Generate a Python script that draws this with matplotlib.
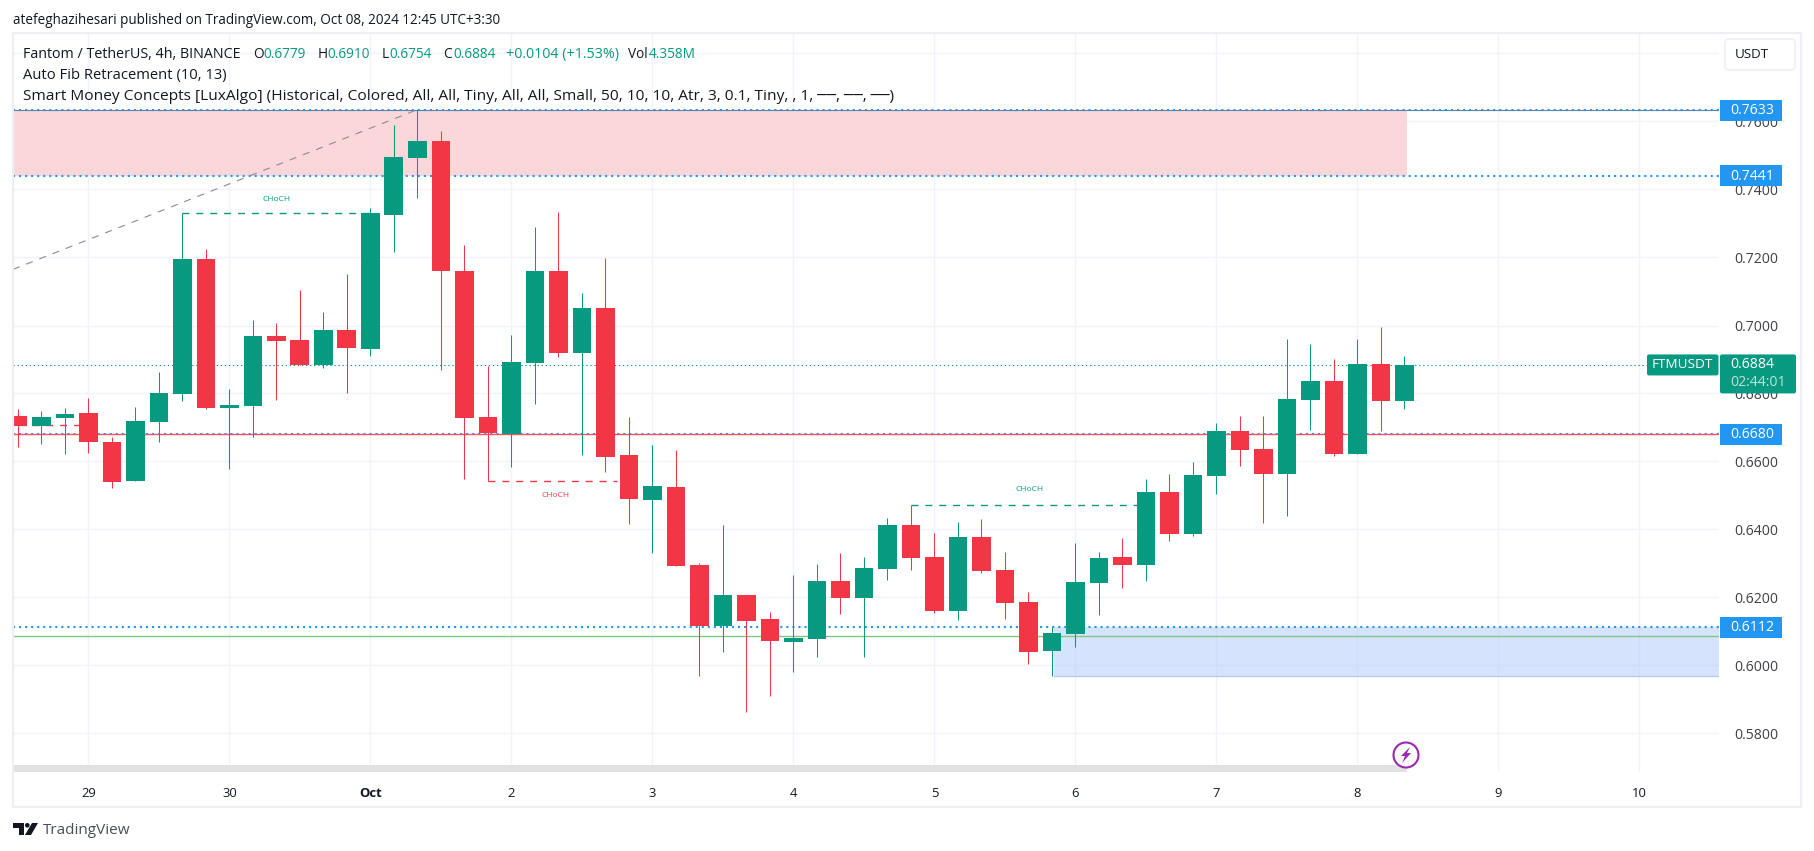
import matplotlib
matplotlib.use('Agg')
import matplotlib.pyplot as plt
from matplotlib.patches import Rectangle, FancyBboxPatch, Circle, Polygon

W, H = 1814, 851
font = 'Open Sans'

# свечи FTM/USDT 4h
opens = [.6734, .6705, .6728, .6743, .6657, .6543, .6716, .6799, .7196, .6758,
         .6763, .6969, .6958, .6884, .6987, .6931, .7325, .7493, .7543, .7160,
         .6731, .6681, .6890, .7160, .6919, .7052, .6619, .6487, .6525, .6296,
         .6116, .6207, .6137, .6069, .6078, .6249, .6199, .6284, .6413, .6319,
         .6160, .6378, .6281, .6187, .6043, .6093, .6243, .6319, .6295, .6510,
         .6387, .6557, .6690, .6637, .6563, .6781, .6837, .6622, .6887, .6779]
highs = [.6755, .6749, .6758, .6787, .6672, .6760, .6863, .7330, .7225, .6813,
         .7016, .7008, .7105, .7040, .7151, .7345, .7590, .7635, .7572, .7237,
         .6881, .6972, .7290, .7334, .7096, .7199, .6731, .6649, .6634, .6302,
         .6413, .6207, .6157, .6266, .6299, .6331, .6319, .6434, .6471, .6390,
         .6422, .6431, .6334, .6216, .6113, .6360, .6334, .6375, .6548, .6563,
         .6598, .6713, .6734, .6734, .6960, .6946, .6901, .6960, .6996, .6910]
lows = [.6643, .6652, .6622, .6625, .6522, .6543, .6657, .6778, .6755, .6578,
        .6672, .6781, .6884, .6875, .6802, .6910, .7217, .7375, .6869, .6549,
        .6542, .6584, .6769, .6907, .6619, .6569, .6416, .6331, .6293, .5969,
        .6040, .5863, .5910, .5981, .6025, .6152, .6025, .6252, .6281, .6154,
        .6134, .6272, .6137, .6005, .5969, .6054, .6148, .6228, .6248, .6366,
        .6381, .6504, .6587, .6419, .6440, .6693, .6616, .6622, .6690, .6754]
closes = [.6705, .6731, .6740, .6657, .6540, .6719, .6802, .7196, .6758, .6766,
          .6969, .6955, .6884, .6987, .6934, .7330, .7496, .7543, .7160, .6728,
          .6684, .6893, .7160, .6919, .7052, .6613, .6490, .6528, .6293, .6116,
          .6207, .6131, .6072, .6081, .6249, .6199, .6287, .6413, .6316, .6160,
          .6378, .6278, .6184, .6040, .6096, .6246, .6316, .6295, .6510, .6387,
          .6560, .6690, .6634, .6563, .6784, .6837, .6622, .6887, .6778, .6884]

day_ticks = [3, 9, 15, 21, 27, 33, 39, 45, 51, 57, 63, 69]
day_labels = ['29', '30', 'Oct', '2', '3', '4', '5', '6', '7', '8', '9', '10']
price_ticks = [.58, .60, .62, .64, .66, .68, .70, .72, .74, .76, .78]

last_price = .6884
zone_top, zone_mid = .7633, .7441
zone_low_top, zone_low_bot = .6112, .5969
level_red = .6680
level_green = .6086
fib_x, fib_y = [-0.21, 17], [.7165, .7635]
choch = [(7, 15, .7330, 11, .7372, '#089981'),
         (20, 25.5, .6542, 22.9, .6500, '#f23645'),
         (38, 48, .6471, 43.05, .6517, '#089981')]

GREEN, RED, BLUE = '#089981', '#f23645', '#2196f3'
GRID = '#f0f3fa'
TXT = '#131722'

fig = plt.figure(figsize=(W / 100, H / 100), dpi=100, facecolor='white')
# основная панель: пиксели 13..1719 по x и 34..772 по y
ax = fig.add_axes([13 / W, 1 - 772 / H, (1719 - 13) / W, (772 - 34) / H])
ax.set_xlim((13 - 17.9) / 23.5, (1719 - 17.9) / 23.5)
ax.set_ylim(.70 - (772 - 325.5) / 3400, .70 + (325.5 - 34) / 3400)
for s in ax.spines.values():
    s.set_visible(False)

ax.set_xticks(day_ticks)
ax.set_xticklabels(day_labels, fontsize=9.4, color=TXT, family=font)
ax.get_xticklabels()[2].set_fontweight('bold')
ax.set_yticks(price_ticks)
# 0.7800 закрыта кнопкой USDT
ax.set_yticklabels([f'{p:.4f}' if p < .78 else '' for p in price_ticks],
                   fontsize=10.1, color='#3d3f46', family=font)
ax.yaxis.tick_right()
ax.tick_params(axis='x', length=0, pad=11)
ax.tick_params(axis='y', length=0, pad=11)
ax.grid(True, color=GRID, lw=1)
ax.set_axisbelow(True)

x0 = ax.get_xlim()[0]
x1 = ax.get_xlim()[1]

# зоны
ax.fill_between([x0, 59.1], zone_mid, zone_top, color='#fbd7da', lw=0, zorder=1)
ax.fill_between([44.1, x1], zone_low_bot, zone_low_top, color='#b5ccfb', alpha=.55, lw=0, zorder=1)
ax.plot([44.1, x1], [zone_low_bot, zone_low_bot], color='#b4c9f7', lw=1, zorder=1.2)

# уровни
ax.axhline(zone_top, color='#787b86', lw=.8, zorder=1.5)
for lv in [zone_top, zone_mid, level_red + .0001, zone_low_top]:
    ax.axhline(lv, color=BLUE, lw=1.5, ls=(0, (1, 1.9)), zorder=1.6)
ax.axhline(level_red - .00005, color='#f7525f', lw=1, zorder=1.7)
ax.axhline(level_green, color='#81c784', lw=1, zorder=1.7)
ax.axhline(last_price, color=GREEN, lw=.75, ls=(0, (1.3, 2.6)), zorder=1.7)

ax.plot(fib_x, fib_y, color='#8f8f95', lw=.85, ls=(0, (6, 6)), zorder=1.8)

# CHoCH
for a, b, lv, tx, ty, c in choch:
    ax.plot([a, b], [lv, lv], color=c, lw=1, ls=(0, (5, 5)), zorder=1.8)
    ax.text(tx, ty, 'CHoCH', color=c, fontsize=6, ha='center', va='center', family=font)
ax.plot([0, 2.6], [.6706, .6706], color=RED, lw=1, ls=(0, (5, 5)), zorder=1.8)

# свечи
for i, (o, h, l, c) in enumerate(zip(opens, highs, lows, closes)):
    col = GREEN if c >= o else RED
    ax.vlines(i, l, h, color=col, lw=.75, zorder=3)
    ax.bar(i, abs(c - o), bottom=min(o, c), width=.8, color=col, lw=0, zorder=4)

# оверлей в пикселях для рамки, подписей и плашек
ov = fig.add_axes([0, 0, 1, 1], zorder=5)
ov.set_xlim(0, W)
ov.set_ylim(H, 0)
ov.axis('off')
ov.patch.set_alpha(0)

FRAME = '#eeeef4'
ov.plot([12.5, 12.5, 1801, 1801, 12.5], [33, 807, 807, 33, 33], color=FRAME, lw=1.6)

# шапка
ov.text(13, 20, 'atefeghazihesari published on TradingView.com, Oct 08, 2024 12:45 UTC+3:30',
        fontsize=9.75, color=TXT, va='center', family=font)
head = [(23, 'Fantom / TetherUS, 4h, BINANCE', TXT, 10.3), (253.5, 'O', TXT, 9.8), (263, '0.6779', GREEN, 9.8),
        (317.5, 'H', TXT, 9.8), (327.5, '0.6910', GREEN, 9.8), (381.5, 'L', TXT, 9.8), (389, '0.6754', GREEN, 9.8),
        (443, 'C', TXT, 9.8), (453, '0.6884', GREEN, 9.8), (506, '+0.0104 (+1.53%)', GREEN, 10.3),
        (628.5, 'Vol', TXT, 9.8), (648.5, '4.358M', GREEN, 9.8)]
for x, s, c, fs in head:
    ov.text(x, 54.5, s, fontsize=fs, color=c, va='center', family=font)
ov.text(23, 75.5, 'Auto Fib Retracement (10, 13)', fontsize=10.6, color=TXT, va='center', family=font)
ov.text(23, 96, 'Smart Money Concepts [LuxAlgo] (Historical, Colored, All, All, Tiny, All, All, Small, '
        '50, 10, 10, Atr, 3, 0.1, Tiny, , 1, ──, ──, ──)', fontsize=11.15, color=TXT, va='center',
        family=[font, 'DejaVu Sans'])

# кнопка USDT
ov.add_patch(FancyBboxPatch((1725, 39), 70, 31, boxstyle='round,pad=0,rounding_size=4',
                            fc='white', ec=FRAME, lw=1.2))
ov.text(1735, 54.5, 'USDT', fontsize=9.6, color=TXT, va='center', family=font)

# плашки цен
for p in [zone_top, zone_mid, level_red, zone_low_top]:
    yc = 325.5 + (.70 - p) * 3400
    ov.add_patch(Rectangle((1720, yc - 10.5), 61.5, 21, fc=BLUE, lw=0))
    ov.text(1730, yc + .5, f'{p:.4f}', fontsize=10.1, color='white', va='center', family=font)

yl = 325.5 + (.70 - last_price) * 3400
ov.add_patch(FancyBboxPatch((1647, yl - 10.5), 71.5, 21, boxstyle='round,pad=0,rounding_size=2',
                            fc=GREEN, lw=0))
ov.text(1652, yl, 'FTMUSDT', fontsize=9.7, color='white', va='center', family=font)
ov.add_patch(FancyBboxPatch((1720, yl - 10.5), 76, 39, boxstyle='round,pad=0,rounding_size=2',
                            fc=GREEN, lw=0))
ov.text(1730, yl, f'{last_price:.4f}', fontsize=10.1, color='white', va='center', family=font)
ov.text(1730, yl + 18, '02:44:01', fontsize=10.1, color='#bfe3dc', va='center', family=font)

# полоса загрузки и молния
ov.add_patch(Rectangle((13, 765), 1393.5, 7, fc='#e1e1e3', lw=0))
ov.add_patch(Circle((1406, 755), 12.5, fc='white', ec='#9c27b0', lw=1.5))
ov.add_patch(Polygon([(1410, 747), (1401, 756), (1405, 756), (1402, 763), (1411, 753), (1407, 753)],
                     fc='#9c27b0', lw=0))

# логотип TradingView
ov.add_patch(Polygon([(13, 823), (24, 823), (24, 835), (18.5, 835), (18.5, 828), (13, 828)],
                     fc=TXT, lw=0))
ov.add_patch(Circle((27.3, 825.3), 2.3, fc=TXT, lw=0))
ov.add_patch(Polygon([(32, 823), (38, 823), (31, 835), (25, 835)], fc=TXT, lw=0))
ov.text(42.5, 830, 'TradingView', fontsize=11, color='#4a4d55', va='center', family=font)

fig.savefig('out.png', dpi=100, facecolor='white')
